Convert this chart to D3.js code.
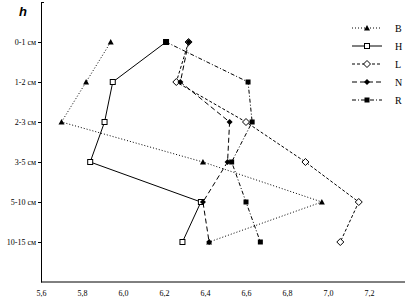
<!DOCTYPE html>
<html><head><meta charset="utf-8">
<script src="https://cdn.jsdelivr.net/npm/d3@7"></script>
<style>body{margin:0;background:#fff}svg{display:block}</style>
</head><body>
<script>
const categories = ["0-1 см","1-2 см","2-3 см","3-5 см","5-10 см","10-15 см"];
const xTicks = [5.6,5.8,6.0,6.2,6.4,6.6,6.8,7.0,7.2];
const xTickLabels = ["5,6","5,8","6,0","6,2","6,4","6,6","6,8","7,0","7,2"];
const seriesNames = ["B","H","L","N","R"];
const B = [5.94,5.82,5.70,6.39,6.97,6.42];
const H = [6.21,5.95,5.91,5.84,6.38,6.29];
const L = [6.32,6.26,6.60,6.89,7.15,7.06];
const N = [6.32,6.28,6.52,6.51,6.39,6.42];
const R = [6.21,6.61,6.63,6.53,6.60,6.67];

const W=406,Hh=299;
const svg=d3.select("body").append("svg").attr("width",W).attr("height",Hh);
const x=d3.scaleLinear().domain([5.6,7.2]).range([41,369]);
const y=d3.scalePoint().domain(categories).range([2,282]).padding(1);

const styles={
 B:{dash:"1,2",marker:"tri",vals:B},
 H:{dash:null,marker:"sqOpen",vals:H},
 L:{dash:"3,2",marker:"diaOpen",vals:L},
 N:{dash:"5,3",marker:"dia",vals:N},
 R:{dash:"4,2,1,2",marker:"sq",vals:R}
};

// axes
const xAxis=svg.append("g").attr("transform","translate(0,282)")
 .call(d3.axisBottom(x).tickValues(xTicks).tickSize(0).tickFormat((d,i)=>xTickLabels[i]));
xAxis.select(".domain").attr("d","M41,0H405");
xAxis.selectAll("text").attr("dy","0").attr("y",14).style("font-family","Liberation Serif").style("font-size","8px");
const yAxis=svg.append("g").attr("transform","translate(41,0)")
 .call(d3.axisLeft(y).tickSize(3).tickSizeOuter(0));
yAxis.selectAll("text").attr("x",-5).style("font-family","Liberation Serif").style("font-size","8px");
svg.append("path").attr("d","M41,2.5H44").attr("stroke","#000");
svg.append("text").attr("x",19).attr("y",16).text("h")
 .style("font-family","Liberation Sans").style("font-weight","bold").style("font-style","italic").style("font-size","13px");

function drawMarker(g,type,cx,cy){
 if(type==="tri") g.append("path").attr("d",`M${cx},${cy-3}L${cx+3},${cy+2.5}L${cx-3},${cy+2.5}Z`).attr("fill","#000");
 else if(type==="sqOpen") g.append("rect").attr("x",cx-2.5).attr("y",cy-2.5).attr("width",5).attr("height",5).attr("fill","#fff").attr("stroke","#000");
 else if(type==="sq") g.append("rect").attr("x",cx-2.5).attr("y",cy-2.5).attr("width",5).attr("height",5).attr("fill","#000");
 else if(type==="diaOpen") g.append("path").attr("d",`M${cx},${cy-3.5}L${cx+3.5},${cy}L${cx},${cy+3.5}L${cx-3.5},${cy}Z`).attr("fill","#fff").attr("stroke","#000");
 else if(type==="dia") g.append("path").attr("d",`M${cx},${cy-3}L${cx+3},${cy}L${cx},${cy+3}L${cx-3},${cy}Z`).attr("fill","#000");
}

const line=d3.line().x(d=>x(d.v)).y(d=>y(d.c));
seriesNames.forEach(name=>{
 const s=styles[name];
 const data=s.vals.map((v,i)=>({v,c:categories[i]}));
 const g=svg.append("g");
 g.append("path").attr("d",line(data)).attr("fill","none").attr("stroke","#000").attr("stroke-width",1)
  .attr("stroke-dasharray",s.dash);
 data.forEach(d=>drawMarker(g,s.marker,x(d.v),y(d.c)));
});

// legend
seriesNames.forEach((name,i)=>{
 const s=styles[name];
 const ly=28+i*18;
 const g=svg.append("g");
 g.append("line").attr("x1",352).attr("x2",382).attr("y1",ly).attr("y2",ly).attr("stroke","#000").attr("stroke-dasharray",s.dash);
 drawMarker(g,s.marker,367,ly);
 g.append("text").attr("x",395).attr("y",ly+3.5).text(name).style("font-family","Liberation Serif").style("font-size","10px");
});
</script>
</body></html>
